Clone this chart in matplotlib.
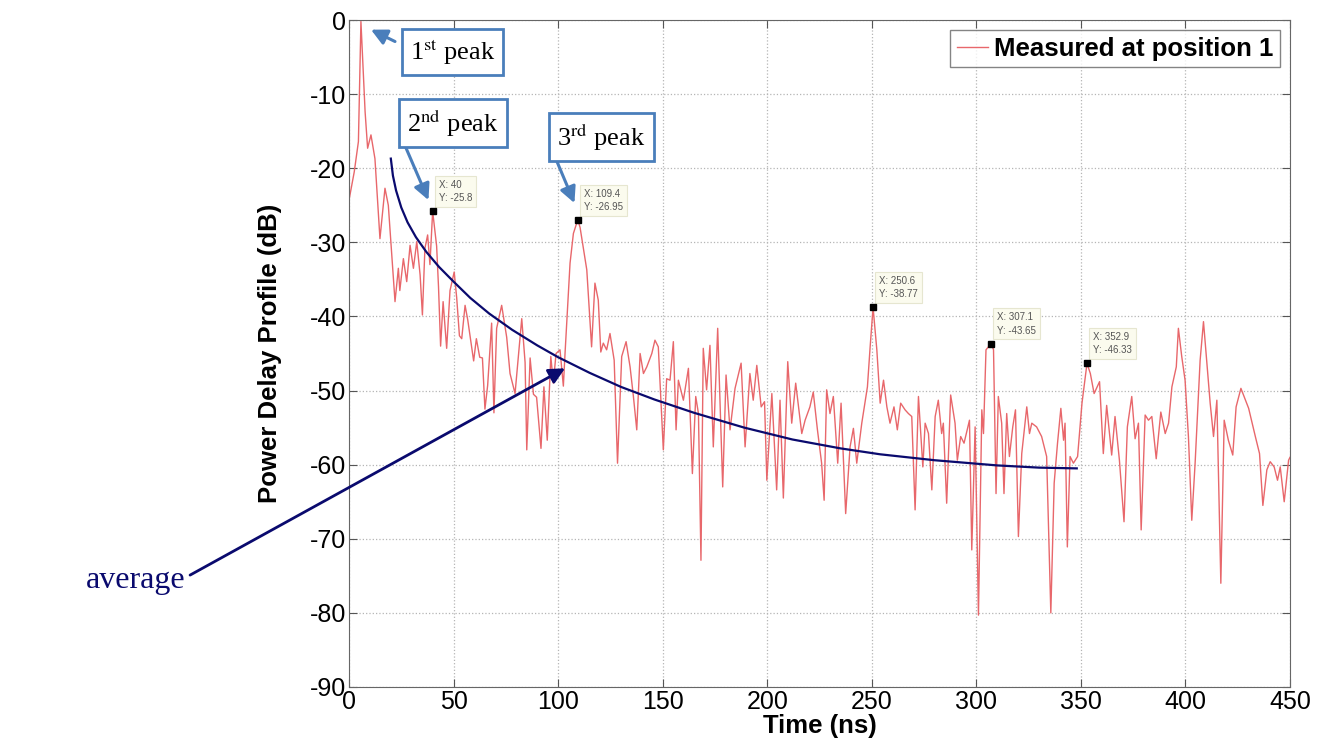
import matplotlib
matplotlib.use("Agg")
import matplotlib.pyplot as plt

# measured power delay profile
time_ns = [
    0, 2.5, 4.5, 5.7, 7.7, 8.9, 10.5, 12.4, 14.8, 17.2, 18.8, 22, 23.6, 24.3, 26,
    27.6, 29.2, 30.8, 32.4, 34, 35.1, 36.3, 37.6, 38.7, 40, 41.9, 42.8, 43.8, 45,
    46.7, 48.3, 50.3, 51.5, 52.8, 53.9, 55.5, 56.8, 58.7, 59.6, 60.9, 62.5, 63.8,
    65, 66.3, 68.2, 69.3, 70.6, 73, 75.4, 77, 79.4, 82.6, 84.2, 85, 86.6, 88.2,
    89.7, 91.8, 93.2, 94.8, 96.5, 97.7, 99, 100.9, 102.5, 103.3, 105.7, 107.3,
    109.4, 110.5, 113.7, 116, 117.6, 119.2, 120.4, 121.6, 123.2, 124.8, 126.8,
    128.4, 130.4, 132.5, 134.4, 136, 137.6, 139.2, 140.8, 142.4, 144.8, 146.3,
    147.9, 150.3, 151.9, 153.5, 155.1, 156.4, 157.5, 159.9, 162.3, 164.2, 165.8,
    167.1, 168.3, 169.4, 171, 172.6, 174.2, 176.3, 178.7, 180.3, 182.2, 184.6,
    187.5, 189.4, 191.7, 193.3, 195, 197.1, 198.7, 199.8, 202.2, 204.5, 206.1,
    207.7, 209.8, 211.7, 213.6, 216.5, 218.1, 220.4, 222, 224, 226, 227.2, 228.4,
    230, 231.6, 233.7, 235.3, 237.5, 239.6, 241.2, 242.8, 245.2, 247.9, 249.2,
    250.6, 252.4, 254, 255.6, 257.2, 258.7, 260.6, 262.2, 263.8, 265.9, 267.5,
    269.1, 270.7, 272.3, 274.4, 275.5, 277.1, 278.7, 280.3, 281.8, 283.4, 284.2,
    285.8, 287.7, 289.8, 290.9, 292.5, 294.1, 296.7, 297.8, 299.4, 301, 302.6,
    303.4, 304.6, 307.1, 308.2, 309.4, 310.5, 312.1, 313.2, 314.5, 315.8, 317.4,
    318.7, 320.1, 321.7, 324.1, 325.4, 326.5, 328.8, 331.2, 333.6, 335.6, 337.2,
    338.8, 340.4, 341.7, 342.4, 343.5, 344.8, 346.4, 348.4, 350.5, 352.9, 354.5,
    356.3, 358.9, 360.7, 362.3, 364.7, 366.3, 368.4, 370.6, 372.2, 374.3, 375.9,
    377.5, 378.8, 380.7, 382.3, 383.9, 386, 388.2, 390.3, 391.9, 393.5, 395.6,
    396.6, 398.2, 399.8, 401.4, 403, 404.6, 407, 408.6, 410.5, 411.8, 413.4, 415,
    416.9, 418.5, 420.5, 422.6, 424.2, 426.5, 430.2, 433.4, 435.4, 437, 438.9,
    440.5, 442.4, 444, 445.3, 447.2, 449.3, 450,
]
pdp_db = [
    -24.3, -20.5, -16.4, -0.2, -12.4, -17.3, -15.5, -18.7, -29.5, -22.7, -25, -38,
    -33.5, -36.5, -32.2, -35.3, -30.4, -33.5, -29.9, -34.4, -39.8, -30.8, -29, -33,
    -25.8, -30.5, -36, -44, -38, -44.3, -36.5, -34, -37.5, -42.6, -43, -38.5,
    -40.5, -44.3, -46, -43, -45.5, -45.6, -52.5, -49.3, -40.9, -53, -41.6, -38.5,
    -42.8, -47.7, -50.4, -40.3, -46.2, -58, -45.6, -50.5, -50.9, -57.8, -49.5,
    -56.7, -45.4, -49, -45, -44.5, -49.4, -45, -32.8, -28.8, -26.95, -28, -33.7,
    -44.1, -35.5, -37.8, -44.8, -43.6, -44.5, -42.3, -45.9, -59.8, -45.4, -43.4,
    -46.8, -50.8, -55.3, -45, -47.7, -46.8, -45, -43.2, -44.1, -58, -48.4, -48.6,
    -43.4, -55.3, -48.6, -51.3, -47, -61.2, -50.8, -53.1, -72.9, -44.3, -49.9,
    -43.9, -57.6, -41.6, -63, -47.9, -55.3, -49.7, -46.3, -57.6, -47.7, -51.3,
    -46.6, -52.2, -51.5, -62.1, -50.4, -63.4, -51.3, -64.5, -46.1, -54.4, -49,
    -55.8, -54, -52.2, -50.2, -55.3, -59.8, -64.8, -49.9, -53.1, -50.8, -59.8,
    -51.7, -66.6, -57.6, -55.1, -59.8, -54.4, -49.5, -44.1, -38.77, -44.5, -51.7,
    -48.6, -52.2, -54.4, -52.2, -55.3, -51.7, -52.6, -53.1, -53.5, -66.1, -50.8,
    -60.3, -54.4, -55.8, -63.4, -53.5, -51.3, -55.8, -54.4, -65.2, -50.6, -54.4,
    -59.4, -56.2, -57.1, -54, -71.5, -54.9, -80.3, -52.6, -55.8, -44.5, -43.65,
    -44.5, -63.9, -50.8, -54.4, -63.9, -53.1, -58.9, -54.9, -52.6, -69.7, -58.5,
    -52.2, -55.8, -54.4, -54.9, -56.2, -58.9, -80, -62.5, -57.1, -52.4, -56.7,
    -54.4, -71.1, -58.9, -59.8, -58.9, -51.7, -46.33, -47.7, -50.4, -48.8, -58.5,
    -52, -58.7, -53.5, -59.4, -67.7, -54.9, -50.8, -56.5, -54.4, -68.8, -53.3,
    -54, -53.5, -59.2, -52.9, -55.8, -54.4, -49.5, -46.8, -41.6, -45.4, -48.6,
    -56.2, -67.5, -59.8, -45.9, -40.7, -47.2, -51.7, -56.2, -51.3, -76, -54,
    -56.7, -58.7, -52.2, -49.7, -52.4, -56.2, -58.5, -65.5, -60.7, -59.6, -60.3,
    -62.1, -60.3, -65, -59.4, -59,
]

# data tips (MATLAB cursors)
tip_x = [40, 109.4, 250.6, 307.1, 352.9]
tip_y = [-25.8, -26.95, -38.77, -43.65, -46.33]

# hand drawn "average" trend curve
avg_x = [20, 21, 22.5, 25, 28, 32, 37, 43, 50, 58, 67, 78, 90, 100, 115, 130,
         146, 165, 189, 212, 235, 254, 280, 310, 330, 348]
avg_y = [-18.7, -21, -23, -25.3, -27.3, -29.3, -31.3, -33.3, -35.3, -37.5,
         -39.6, -41.8, -43.9, -45.5, -47.6, -49.5, -51.2, -53, -55, -56.6,
         -57.8, -58.6, -59.4, -60.1, -60.4, -60.5]

plt.rcParams["font.family"] = ["Liberation Sans", "DejaVu Sans"]
plt.rcParams["mathtext.fontset"] = "stix"
plt.rcParams["axes.unicode_minus"] = False

fig = plt.figure(figsize=(13.18, 7.5), dpi=100)
ax = fig.add_axes([0.2648, 0.084, 0.714, 0.8893])

ax.plot(time_ns, pdp_db, color="#e8676b", linewidth=1.0,
        label="Measured at position 1")
ax.plot(tip_x, tip_y, "s", color="black", markersize=5, zorder=5)

for x, y in zip(tip_x, tip_y):
    ax.annotate(f"X: {x:g}\nY: {y:g}", xy=(x, y), xytext=(6, 8),
                textcoords="offset pixels", fontsize=7, color="#555555",
                va="bottom", ha="left", linespacing=1.4,
                bbox=dict(boxstyle="square,pad=0.4", fc="#fbfbee",
                          ec="#e6e6d0", lw=0.8))

ax.plot(avg_x, avg_y, color="#0a0a6e", linewidth=1.6, zorder=6)

# peak callouts
box_style = dict(boxstyle="square,pad=0.3", fc="white", ec="#4a7ebb", lw=2)
arrow_style = dict(arrowstyle="-|>", color="#4a7ebb", lw=2.2,
                   mutation_scale=24, shrinkA=0, shrinkB=0)
serif = ["Liberation Serif", "DejaVu Serif"]
ax.text(49.5, -4.3, r"1$^{\mathrm{st}}$ peak", fontsize=19, family=serif,
        ha="center", va="center", bbox=box_style, zorder=7)
ax.annotate("", xy=(10.5, -1.3), xytext=(22, -2.9), arrowprops=arrow_style)
ax.text(49.8, -13.9, r"2$^{\mathrm{nd}}$ peak", fontsize=19, family=serif,
        ha="center", va="center", bbox=box_style, zorder=7)
ax.annotate("", xy=(38, -24.3), xytext=(27, -17.1), arrowprops=arrow_style)
ax.text(120.8, -15.8, r"3$^{\mathrm{rd}}$ peak", fontsize=19, family=serif,
        ha="center", va="center", bbox=box_style, zorder=7)
ax.annotate("", xy=(107.8, -24.7), xytext=(99, -18.8), arrowprops=arrow_style)

ax.text(-102, -75.6, "average", fontsize=23, family=serif, color="#0a0a6e",
        ha="center", va="center", clip_on=False)
ax.annotate("", xy=(103.3, -47), xytext=(-76, -74.9), annotation_clip=False,
            arrowprops=dict(arrowstyle="-|>", color="#0a0a6e", lw=2,
                            mutation_scale=24, shrinkA=0, shrinkB=0))

ax.set_xlim(0, 450)
ax.set_ylim(-90, 0)
ax.set_xticks(range(0, 451, 50))
ax.set_yticks(range(-90, 1, 10))
ax.grid(True, linestyle=":", color="#b5b5b5", linewidth=0.9)
ax.tick_params(direction="in", top=True, right=True, length=6,
               labelsize=18, color="#555555", pad=2)
for s in ax.spines.values():
    s.set_color("#666666")

ax.set_xlabel("Time (ns)", fontsize=18.5, fontweight="bold", labelpad=0)
ax.set_ylabel("Power Delay Profile (dB)", fontsize=18.5, fontweight="bold",
              labelpad=20)
ax.legend(loc="upper right", frameon=True, fancybox=False,
          edgecolor="#666666", handlelength=1.2, handletextpad=0.25,
          borderpad=0.25, borderaxespad=0.4,
          prop={"weight": "bold", "size": 18.5})

fig.savefig("out.png", dpi=100)
